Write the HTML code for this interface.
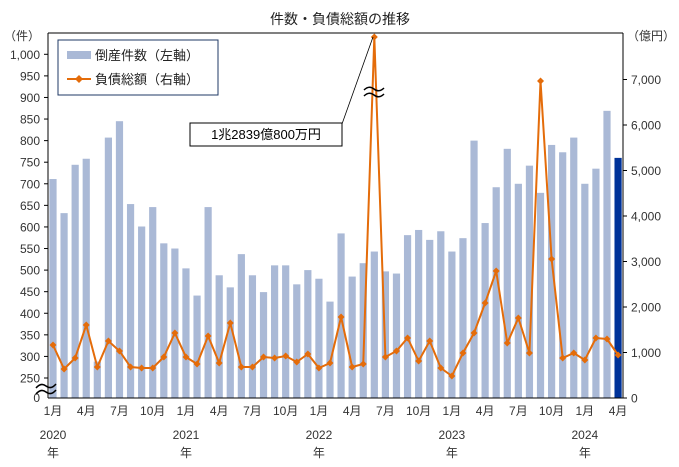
<!DOCTYPE html>
<html><head><meta charset="utf-8"><style>
body{margin:0;background:#fff}
svg{display:block;font-family:"Liberation Sans","Noto Sans CJK JP",sans-serif}
</style></head><body>
<svg width="679" height="467" viewBox="0 0 679 467" xmlns="http://www.w3.org/2000/svg">
<rect width="679" height="467" fill="#fff"/>
<text x="340" y="24" font-size="14" text-anchor="middle" fill="#222">件数・負債総額の推移</text>
<g id="bars"></g>
<g id="line"></g>
<line x1="48" y1="33" x2="623" y2="33" stroke="#000"/>
<line x1="48" y1="33" x2="48" y2="398" stroke="#000"/>
<line x1="623" y1="33" x2="623" y2="398" stroke="#000"/>
<line x1="48" y1="398" x2="623" y2="398" stroke="#000"/>
<g id="ax" font-size="12" fill="#333"></g>
<rect x="58" y="40" width="160" height="55" fill="#fff" stroke="#1f3864"/>
<rect x="67" y="51" width="24" height="8" fill="#aab9d6"/>
<text x="95" y="60" font-size="13" fill="#222">倒産件数（左軸）</text>
<line x1="67" y1="79" x2="91" y2="79" stroke="#e46c0a" stroke-width="2"/>
<path d="M79 75l4 4-4 4-4-4z" fill="#e46c0a"/>
<text x="95" y="84" font-size="13" fill="#222">負債総額（右軸）</text>
<line x1="342" y1="124" x2="373" y2="37" stroke="#000" stroke-width="0.8"/>
<rect x="190" y="123" width="152" height="23" fill="#fff" stroke="#000"/>
<text x="266" y="139" font-size="13" text-anchor="middle" fill="#000">1兆2839億800万円</text>
<path d="M364 90q5-5 10-1t10-1M364 96q5-5 10-1t10-1" stroke="#000" fill="none" stroke-width="1.5"/>
<path d="M364 93h20v-6h-20z" fill="#fff" opacity="0"/>
<path d="M36 388q5-6 10-2t10-2M36 394q5-6 10-2t10-2" stroke="#000" fill="none" stroke-width="1.5"/>
</svg>
<script>
const bars=[711,632,744,758,288,807,845,653,601,646,562,550,504,441,646,488,460,537,488,449,511,511,467,500,480,427,585,485,516,543,497,492,581,593,570,590,543,574,800,609,692,781,700,742,679,790,773,807,700,735,869,760];
const ly=[345,369,358,325,367,341,351,367,368,368,357,333,357,364,336,363,323,367,367,357,358,356,362,354,368,363,317,367,364,37,357,351,338,361,341,368,376,353,333,303,271,343,318,353,81,259,358,353,360,338,339,355];
const ns="http://www.w3.org/2000/svg";
function el(p,t,a,txt){const e=document.createElementNS(ns,t);for(const k in a)e.setAttribute(k,a[k]);if(txt!==undefined)e.textContent=txt;document.getElementById(p).appendChild(e);}
const x0=53,dx=11.08;
bars.forEach((v,i)=>{const y=v>=250?378-(v-250)/50*21.58:398-v/250*20;el("bars","rect",{x:x0+i*dx-3.6,y:y,width:7.2,height:398-y,fill:i==51?"#003399":"#aab9d6"});});
let d="";ly.forEach((y,i)=>{d+=(i?"L":"M")+(x0+i*dx)+" "+y;});
el("line","path",{d:d,stroke:"#e46c0a","stroke-width":2,fill:"none"});
ly.forEach((y,i)=>{const x=x0+i*dx;el("line","path",{d:`M${x} ${y-3.5}l3.5 3.5-3.5 3.5-3.5-3.5z`,fill:"#e46c0a"});});
for(let v=250;v<=1000;v+=50){const y=378-(v-250)/50*21.58;el("ax","line",{x1:44,y1:y,x2:48,y2:y,stroke:"#000"});el("ax","text",{x:40,y:y+4.5,"text-anchor":"end"},v>=1000?"1,000":v);}
el("ax","text",{x:40,y:402,"text-anchor":"end"},"0");
el("ax","text",{x:40,y:40,"text-anchor":"end"},"（件）");
for(let v=0;v<=7;v++){const y=398-v*45.5;el("ax","line",{x1:623,y1:y,x2:627,y2:y,stroke:"#000"});el("ax","text",{x:631,y:y+4.5},v?v+",000":"0");}
el("ax","text",{x:627,y:40},"（億円）");
const lab=["1月","4月","7月","10月"];
for(let i=0;i<52;i+=3){el("ax","text",{x:x0+i*dx,y:415,"text-anchor":"middle"},lab[(i/3)%4]);}
[2020,2021,2022,2023,2024].forEach((yr,k)=>{const x=x0+k*12*dx;el("ax","text",{x:x,y:439,"text-anchor":"middle"},yr);el("ax","text",{x:x,y:457,"text-anchor":"middle"},"年");});
</script>
</body></html>
